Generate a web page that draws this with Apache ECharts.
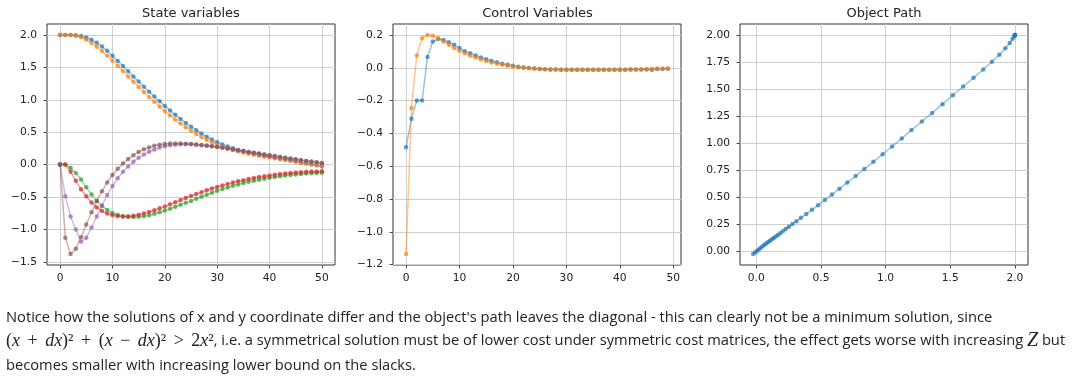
<!DOCTYPE html>
<html><head><meta charset="utf-8">
<script src="https://cdn.jsdelivr.net/npm/echarts@6/dist/echarts.min.js"></script>
<style>html,body{margin:0;padding:0;background:#fff;}#c{width:1079px;height:382px;}</style>
</head><body><div id="c"></div>
<script>
// ---- data ----
const posX = [2.0,2.0,2.0,1.995,1.982,1.96,1.926,1.88,1.822,1.755,1.68,1.60,1.52,1.44,1.36,1.28,1.20,1.125,1.05,0.977,0.905,0.835,0.768,0.704,0.643,0.585,0.53,0.478,0.43,0.386,0.345,0.31,0.28,0.252,0.227,0.205,0.185,0.167,0.15,0.135,0.121,0.106,0.091,0.077,0.063,0.048,0.033,0.019,0.005,-0.009,-0.025];
const posY = [2.0,2.0,2.0,1.989,1.964,1.926,1.877,1.818,1.752,1.68,1.603,1.523,1.442,1.36,1.279,1.199,1.12,1.043,0.968,0.896,0.826,0.759,0.695,0.634,0.577,0.523,0.472,0.425,0.382,0.343,0.308,0.277,0.25,0.226,0.204,0.184,0.166,0.15,0.135,0.122,0.11,0.097,0.084,0.071,0.058,0.044,0.03,0.016,0.002,-0.012,-0.027];
const velX = [0,0,-0.05,-0.13,-0.23,-0.35,-0.46,-0.56,-0.64,-0.70,-0.745,-0.775,-0.795,-0.805,-0.81,-0.805,-0.795,-0.78,-0.76,-0.735,-0.71,-0.68,-0.65,-0.62,-0.59,-0.56,-0.528,-0.496,-0.465,-0.435,-0.405,-0.378,-0.352,-0.328,-0.306,-0.285,-0.266,-0.248,-0.232,-0.217,-0.203,-0.19,-0.179,-0.169,-0.16,-0.152,-0.145,-0.139,-0.133,-0.128,-0.124];
const velY = [0,0,-0.11,-0.25,-0.38,-0.49,-0.585,-0.66,-0.715,-0.755,-0.78,-0.795,-0.80,-0.80,-0.79,-0.775,-0.755,-0.73,-0.705,-0.675,-0.645,-0.613,-0.58,-0.548,-0.516,-0.485,-0.455,-0.425,-0.397,-0.37,-0.345,-0.321,-0.299,-0.278,-0.258,-0.24,-0.223,-0.207,-0.193,-0.18,-0.168,-0.157,-0.147,-0.138,-0.13,-0.123,-0.117,-0.112,-0.108,-0.105,-0.103];
const accX = [0,-0.49,-0.80,-1.00,-1.19,-1.13,-0.97,-0.80,-0.63,-0.47,-0.33,-0.21,-0.11,-0.03,0.045,0.105,0.155,0.198,0.233,0.262,0.283,0.298,0.308,0.313,0.314,0.312,0.307,0.30,0.292,0.282,0.271,0.259,0.247,0.234,0.221,0.208,0.195,0.182,0.169,0.156,0.143,0.13,0.117,0.104,0.091,0.078,0.066,0.054,0.043,0.032,0.022];
const accY = [0,-1.13,-1.38,-1.30,-1.12,-0.925,-0.735,-0.56,-0.41,-0.275,-0.16,-0.065,0.015,0.085,0.145,0.195,0.235,0.265,0.29,0.307,0.318,0.324,0.326,0.325,0.322,0.317,0.31,0.302,0.293,0.283,0.272,0.26,0.248,0.235,0.222,0.209,0.196,0.183,0.17,0.157,0.144,0.131,0.118,0.105,0.093,0.081,0.069,0.057,0.046,0.035,0.025];
const ctrlX = [-0.485,-0.31,-0.20,-0.20,0.065,0.16,0.175,0.17,0.155,0.14,0.12,0.10,0.088,0.075,0.062,0.052,0.042,0.033,0.025,0.018,0.012,0.006,0.002,-0.002,-0.005,-0.007,-0.009,-0.01,-0.011,-0.012,-0.012,-0.012,-0.012,-0.012,-0.012,-0.012,-0.012,-0.012,-0.012,-0.012,-0.012,-0.012,-0.011,-0.011,-0.01,-0.01,-0.012,-0.008,-0.007,-0.006];
const ctrlY = [-1.135,-0.245,0.075,0.18,0.20,0.195,0.18,0.16,0.14,0.12,0.103,0.088,0.074,0.062,0.051,0.041,0.032,0.025,0.018,0.012,0.007,0.003,0.0,-0.003,-0.005,-0.007,-0.009,-0.01,-0.011,-0.012,-0.012,-0.012,-0.012,-0.012,-0.012,-0.012,-0.012,-0.012,-0.012,-0.012,-0.012,-0.012,-0.011,-0.01,-0.009,-0.007,-0.006,-0.005,-0.005,-0.005];

const titles = ['State variables','Control Variables','Object Path'];
const ticksX1 = [0,10,20,30,40,50];
const ticksY1 = [-1.5,-1.0,-0.5,0.0,0.5,1.0,1.5,2.0];
const ticksX2 = [0,10,20,30,40,50];
const ticksY2 = [-1.2,-1.0,-0.8,-0.6,-0.4,-0.2,0.0,0.2];
const ticksX3 = [0.0,0.5,1.0,1.5,2.0];
const ticksY3 = [0.00,0.25,0.50,0.75,1.00,1.25,1.50,1.75,2.00];

const line1 = "Notice how the solutions of x and y coordinate differ and the object's path leaves the diagonal - this can clearly not be a minimum solution, since";
const line2rest = ", i.e. a symmetrical solution must be of lower cost under symmetric cost matrices, the effect gets worse with increasing ";
const line3 = "becomes smaller with increasing lower bound on the slacks.";

// ---- chart ----
const C = ['#1f77b4','#ff7f0e','#2ca02c','#d62728','#9467bd','#8c564b'];
function pad(arr){ let mn=Math.min(...arr), mx=Math.max(...arr), r=mx-mn; return [mn-0.05*r, mx+0.05*r]; }
function fmt(d){ return v => (Math.abs(v)<1e-9?0:v).toFixed(d).replace('-', '\u2212'); }
function axis(gi, ext, ticks, d, isX){
  return {type:'value', gridIndex:gi, min:ext[0], max:ext[1],
    axisLine:{show:false, onZero:false},
    axisTick:{show:true, inside:false, length:3.5, customValues:ticks, lineStyle:{color:'#222', width:0.8}},
    axisLabel:{show:true, customValues:ticks, formatter:fmt(d), color:'#222', fontSize:10.7, fontFamily:'DejaVu Sans', margin:isX?8:10},
    splitLine:{show:true, lineStyle:{color:'#cfcfcf', width:1}}};
}
const tIdx51 = posX.map((_, i) => i);
const tIdx50 = ctrlX.map((_, i) => i);
const allState = posX.concat(posY, velX, velY, accX, accY);
const allCtrl = ctrlX.concat(ctrlY);

function ser(gi, xs, ys, color){
  return {type:'line', xAxisIndex:gi, yAxisIndex:gi, data: xs.map((x,i)=>[x, ys[i]]),
    symbol:'circle', symbolSize:4.5, showAllSymbol:true,
    lineStyle:{color, width:1.5, opacity:0.45}, itemStyle:{color, opacity:0.7}, emphasis:{disabled:true}};
}
const grids = [47, 393, 740].map(l => ({left:l, top:24, width:288, height:241, show:true, borderColor:'#333', borderWidth:1, containLabel:false}));

const serif = 'Liberation Serif';
const sans = 'Open Sans';
const TS = 14.7;
const rich = {
  t:{fontFamily:sans, fontSize:TS, fill:'#222'},
  r:{fontFamily:serif, fontSize:18, fill:'#222'},
  o:{fontFamily:serif, fontSize:18, fill:'#222', padding:[0,3]},
  i:{fontFamily:serif, fontSize:18, fontStyle:'italic', fill:'#222'},
  z:{fontFamily:serif, fontSize:20, fontStyle:'italic', fill:'#222'}
};
const line2 = '{r|(}{i|x}{o| + }{i|dx}{r|)²}{o| + }{r|(}{i|x}{o| − }{i|dx}{r|)²}{o| > }{r|2}{i|x}{r|²}{t|' + line2rest + '}{z|Z}{t| but}';
const tfont = TS + 'px "Open Sans"';

const graphic = [
  ...titles.map((t, k) => ({type:'text', x:[191,537.5,884][k], y:14, style:{text:t, font:'13px DejaVu Sans', fill:'#222', align:'center', verticalAlign:'middle'}})),
  {type:'text', x:6, y:318, style:{text:line1, font:tfont, fill:'#222', verticalAlign:'middle'}},
  {type:'text', x:6, y:341, style:{text:line2, rich, font:tfont, fill:'#222', verticalAlign:'middle'}},
  {type:'text', x:6, y:366, style:{text:line3, font:tfont, fill:'#222', verticalAlign:'middle'}}
];

const option = {
  animation:false, backgroundColor:'#fff',
  grid: grids,
  xAxis:[axis(0, pad(tIdx51), ticksX1, 0, true), axis(1, pad(tIdx50), ticksX2, 0, true), axis(2, pad(posX), ticksX3, 1, true)],
  yAxis:[axis(0, pad(allState), ticksY1, 1), axis(1, pad(allCtrl), ticksY2, 1), axis(2, pad(posY), ticksY3, 2)],
  series:[
    ser(0, tIdx51, posX, C[0]), ser(0, tIdx51, posY, C[1]), ser(0, tIdx51, velX, C[2]),
    ser(0, tIdx51, velY, C[3]), ser(0, tIdx51, accX, C[4]), ser(0, tIdx51, accY, C[5]),
    ser(1, tIdx50, ctrlX, C[0]), ser(1, tIdx50, ctrlY, C[1]),
    ser(2, posX, posY, C[0])
  ],
  graphic
};
echarts.init(document.getElementById('c')).setOption(option);
</script></body></html>
